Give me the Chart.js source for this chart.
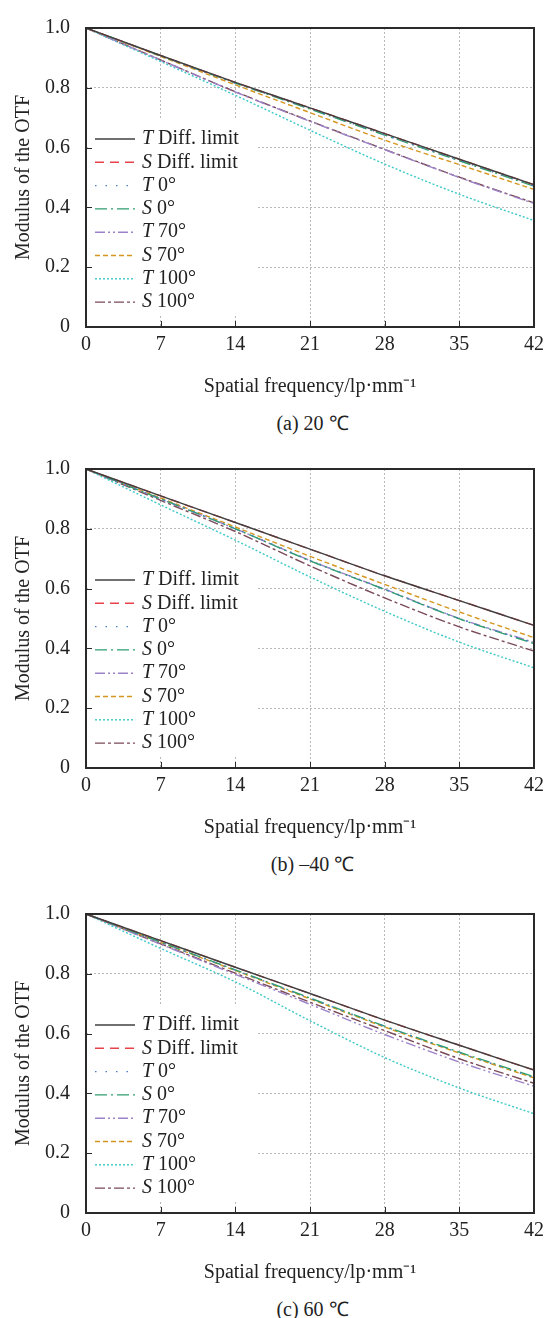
<!DOCTYPE html>
<html>
<head>
<meta charset="utf-8">
<script src="https://cdn.jsdelivr.net/npm/chart.js@4.4.1/dist/chart.umd.min.js"></script>
<style>
  body { margin: 0; background: #fff; }
  #wrap { position: relative; width: 550px; height: 1318px; }
  canvas { position: absolute; left: 0; }
  .cap { position: absolute; left: 86px; width: 453px; text-align: center;
         font: 20px 'Liberation Serif', 'Times New Roman', serif; color: #222; line-height: 24px; }
</style>
</head>
<body>
<div id="wrap">
  <canvas id="c1" width="550" height="400" style="top:0px"></canvas>
  <div class="cap" style="top:411px">(a) 20 ℃</div>
  <canvas id="c2" width="550" height="400" style="top:441px"></canvas>
  <div class="cap" style="top:852px">(b) –40 ℃</div>
  <canvas id="c3" width="550" height="400" style="top:886px"></canvas>
  <div class="cap" style="top:1297px">(c) 60 ℃</div>
</div>
<script>
// spatial frequency, lp/mm
const freq = [0, 7, 14, 21, 28, 35, 42];
const yTicks = [0, 0.2, 0.4, 0.6, 0.8, 1.0];

// legend names: [italic prefix, rest]
const names = [['T', ' Diff. limit'], ['S', ' Diff. limit'], ['T', ' 0°'], ['S', ' 0°'],
               ['T', ' 70°'], ['S', ' 70°'], ['T', ' 100°'], ['S', ' 100°']];

// (a) 20 ℃
const tDiffA = [1, 0.908, 0.818, 0.733, 0.647, 0.561, 0.476];
const sDiffA = [1, 0.908, 0.818, 0.733, 0.647, 0.561, 0.476];
const t0A    = [1, 0.907, 0.816, 0.730, 0.643, 0.557, 0.472];
const s0A    = [1, 0.907, 0.816, 0.729, 0.642, 0.556, 0.471];
const t70A   = [1, 0.893, 0.786, 0.688, 0.593, 0.500, 0.413];
const s70A   = [1, 0.905, 0.810, 0.717, 0.625, 0.543, 0.460];
const t100A  = [1, 0.888, 0.775, 0.658, 0.545, 0.444, 0.356];
const s100A  = [1, 0.893, 0.787, 0.689, 0.594, 0.501, 0.415];

// (b) -40 ℃
const tDiffB = [1, 0.910, 0.821, 0.732, 0.643, 0.560, 0.477];
const sDiffB = [1, 0.910, 0.821, 0.732, 0.643, 0.560, 0.477];
const t0B    = [1, 0.900, 0.801, 0.695, 0.598, 0.500, 0.418];
const s0B    = [1, 0.900, 0.800, 0.693, 0.597, 0.499, 0.416];
const t70B   = [1, 0.900, 0.800, 0.694, 0.598, 0.500, 0.420];
const s70B   = [1, 0.903, 0.806, 0.708, 0.614, 0.522, 0.436];
const t100B  = [1, 0.880, 0.762, 0.639, 0.524, 0.421, 0.335];
const s100B  = [1, 0.895, 0.791, 0.676, 0.569, 0.472, 0.391];

// (c) 60 ℃
const tDiffC = [1, 0.911, 0.822, 0.734, 0.645, 0.561, 0.478];
const sDiffC = [1, 0.911, 0.822, 0.734, 0.645, 0.561, 0.478];
const t0C    = [1, 0.906, 0.812, 0.718, 0.624, 0.536, 0.453];
const s0C    = [1, 0.906, 0.813, 0.719, 0.625, 0.538, 0.456];
const t70C   = [1, 0.899, 0.798, 0.698, 0.597, 0.505, 0.424];
const s70C   = [1, 0.905, 0.811, 0.716, 0.622, 0.535, 0.452];
const t100C  = [1, 0.885, 0.773, 0.643, 0.520, 0.418, 0.332];
const s100C  = [1, 0.900, 0.802, 0.705, 0.610, 0.516, 0.434];

const styles = [
  { color: '#404040', dash: [] },
  { color: '#e8424a', dash: [9, 6] },
  { color: '#4a7ec8', dash: [1.5, 9] },
  { color: '#2e9e6e', dash: [12, 4, 2, 4] },
  { color: '#9c82c8', dash: [10, 3, 2, 3, 2, 3] },
  { color: '#d4961e', dash: [5, 3] },
  { color: '#3cc8c8', dash: [2, 2] },
  { color: '#7a4a58', dash: [10, 3, 3, 3] }
];

const FONT = "'Liberation Serif', 'Times New Roman', serif";
Chart.defaults.font.family = FONT;
Chart.defaults.font.size = 20;
Chart.defaults.color = '#222';

// white legend box, drawn over the grid
const legendPlugin = {
  id: 'otfLegend',
  beforeDatasetsDraw(chart) {
    const ctx = chart.ctx;
    ctx.save();
    ctx.fillStyle = '#fff';
    ctx.fillRect(88, 118, 170, 196);
    chart.data.datasets.forEach((ds, i) => {
      const y = 139 + i * 23.3;
      ctx.strokeStyle = ds.borderColor;
      ctx.lineWidth = 1.4;
      ctx.setLineDash(ds.borderDash);
      ctx.beginPath();
      ctx.moveTo(95, y);
      ctx.lineTo(135, y);
      ctx.stroke();
      ctx.setLineDash([]);
      ctx.fillStyle = '#222';
      ctx.textBaseline = 'middle';
      ctx.font = 'italic 20px ' + FONT;
      ctx.fillText(names[i][0], 142, y);
      const w = ctx.measureText(names[i][0]).width;
      ctx.font = '20px ' + FONT;
      ctx.fillText(names[i][1], 142 + w, y);
    });
    ctx.restore();
  }
};

// framed box with inward ticks
const framePlugin = {
  id: 'frame',
  afterDatasetsDraw(chart) {
    const { ctx, chartArea: a, scales } = chart;
    ctx.save();
    ctx.strokeStyle = '#2a2a2a';
    ctx.lineWidth = 1;
    ctx.setLineDash([]);
    ctx.beginPath();
    freq.slice(1, -1).forEach(v => {
      const x = Math.round(scales.x.getPixelForValue(v)) + 0.5;
      ctx.moveTo(x, a.bottom);
      ctx.lineTo(x, a.bottom - 6);
    });
    yTicks.slice(1, -1).forEach(v => {
      const y = Math.round(scales.y.getPixelForValue(v)) + 0.5;
      ctx.moveTo(a.left, y);
      ctx.lineTo(a.left + 6, y);
    });
    ctx.stroke();
    ctx.lineWidth = 2;
    ctx.strokeRect(a.left, a.top, a.right - a.left, a.bottom - a.top);
    ctx.restore();
  }
};

function makeChart(id, series) {
  const datasets = series.map((vals, i) => ({
    label: names[i].join(''),
    data: freq.map((f, j) => ({ x: f, y: vals[j] })),
    borderColor: styles[i].color,
    borderDash: styles[i].dash,
    borderWidth: 1.4,
    pointRadius: 0,
    fill: false,
    cubicInterpolationMode: 'monotone'
  }));
  new Chart(document.getElementById(id), {
    type: 'line',
    data: { datasets },
    options: {
      responsive: false,
      animation: false,
      layout: { padding: { top: 17, right: 11, left: 0, bottom: 0 } },
      plugins: { legend: { display: false }, tooltip: { enabled: false } },
      scales: {
        x: {
          type: 'linear', min: 0, max: 42,
          afterFit: s => { s.height = 73; },
          ticks: { stepSize: 7, padding: 6, maxRotation: 0 },
          grid: { color: '#b8b8b8', drawTicks: false },
          border: { display: false, dash: [2, 2] },
          title: { display: true, text: 'Spatial frequency/lp·mm⁻¹', padding: { top: 0, bottom: 1 } }
        },
        y: {
          min: 0, max: 1,
          afterFit: s => { s.width = 86; },
          ticks: { stepSize: 0.2, padding: 16, callback: v => v === 0 ? '0' : v.toFixed(1) },
          grid: { color: '#b8b8b8', drawTicks: false },
          border: { display: false, dash: [2, 2] },
          title: { display: true, text: 'Modulus of the OTF', padding: { top: 12, bottom: 0 } }
        }
      }
    },
    plugins: [legendPlugin, framePlugin]
  });
}

makeChart('c1', [tDiffA, sDiffA, t0A, s0A, t70A, s70A, t100A, s100A]);
makeChart('c2', [tDiffB, sDiffB, t0B, s0B, t70B, s70B, t100B, s100B]);
makeChart('c3', [tDiffC, sDiffC, t0C, s0C, t70C, s70C, t100C, s100C]);
</script>
</body>
</html>
